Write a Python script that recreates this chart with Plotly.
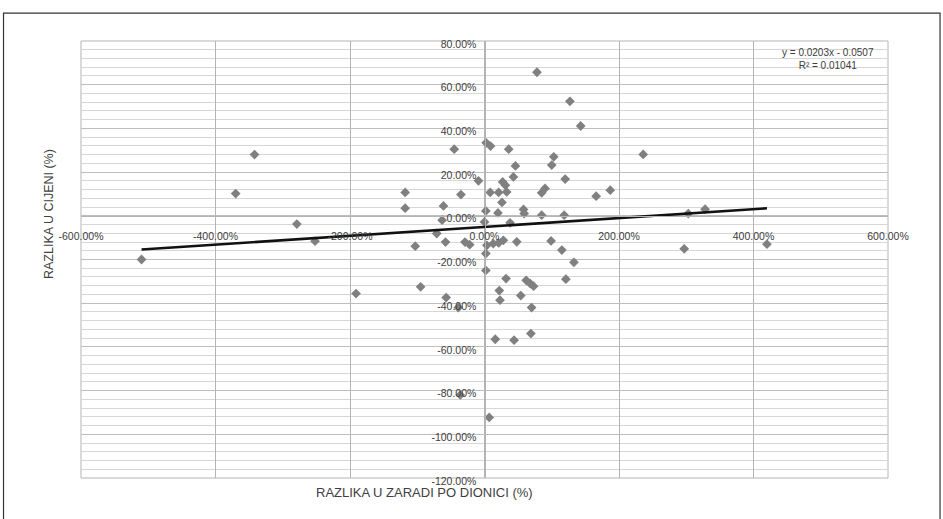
import plotly.graph_objects as go

# Data (percent units)
eps_diff = [-510, -370, -342, -279, -252, -191,
            -118, -118, -103, -95, -61, -63, -71, -58, -57, -45, -35, -39, -36, -29, -22, -9,
            2.5, 9, 8.5, 2, 0, 3.5, 2, 2, 7,
            21, 26, 20, 13, 21, 28, 22, 23, 16, 27, 31, 33, 36, 46, 43, 38, 48, 32, 44,
            58, 59, 62, 68, 73, 54, 70, 69, 78, 90, 85, 85, 99,
            103, 100, 120, 118.5, 115, 133, 121, 127, 143, 166, 187,
            236, 303, 328, 297, 420]
price_diff = [-20, 10.2, 28, -3.8, -11.6, -35.6,
              10.7, 3.5, -13.9, -32.5, 4.5, -2, -8.1, -12, -37.4, 30.5, 9.7, -42, -82, -12, -13.2, 16,
              33.4, 31.9, 10.7, 2.2, -2.8, -13.5, -17.3, -25, -92.3,
              10.7, 6.1, 1.3, -12.7, -12.4, -11.2, -34.2, -38.6, -56.5, 15.5, 14.0, 10.9, 30.5, 22.8, 17.8, -3.2, -11.9, -28.7, -56.9,
              2.9, 1, -29.5, -31, -32.2, -36.5, -42, -53.9, 65.7, 12.5, 10.5, 0.3, -11.5,
              27, 23.2, 16.8, 0.3, -15.7, -21.3, -29, 52.4, 41.1, 9, 11.7,
              28.1, 1.0, 3.0, -15.1, -13.0]

# Trendline coefficients (fraction units, as printed)
slope = 0.0203
intercept = -0.0507
r_squared = 0.01041

x_ticks = [-600, -400, -200, 0, 200, 400, 600]
y_ticks = [80, 60, 40, 20, 0, -20, -40, -60, -80, -100, -120]
x_tick_text = [f"{v:.2f}%" for v in x_ticks]
y_tick_text = [f"{v:.2f}%" for v in y_ticks]

x_title = "RAZLIKA U ZARADI PO DIONICI (%)"
y_title = "RAZLIKA U CIJENI (%)"

xmin, xmax = min(eps_diff), max(eps_diff)
trend_x = [xmin, xmax]
trend_y = [slope * v + intercept * 100 for v in trend_x]

fig = go.Figure()
fig.add_trace(go.Scatter(
    x=eps_diff, y=price_diff, mode="markers",
    marker=dict(symbol="diamond", size=7.5, color="#808080", line=dict(width=0)),
    showlegend=False, cliponaxis=False))
fig.add_trace(go.Scatter(
    x=trend_x, y=trend_y, mode="lines",
    line=dict(color="#111111", width=2.6), showlegend=False))

font_family = "Liberation Sans, Arial, sans-serif"
tick_font = dict(family=font_family, size=10.5, color="#404040")

fig.update_layout(
    width=943, height=519,
    margin=dict(l=81, r=55, t=41, b=41),
    paper_bgcolor="white", plot_bgcolor="white",
    xaxis=dict(
        range=[-600, 600], tickmode="array", tickvals=x_ticks, ticktext=x_tick_text,
        showgrid=True, gridcolor="#b4b4b4", gridwidth=1,
        zeroline=False, showline=True, linecolor="#b4b4b4", linewidth=1,
        anchor="free", position=0.6, side="bottom", ticks="",
        ticklabelstandoff=11, tickfont=tick_font,
    ),
    yaxis=dict(
        range=[-120, 80], tickmode="array", tickvals=y_ticks, ticktext=y_tick_text,
        showgrid=True, gridcolor="#bdbdbd", gridwidth=1,
        minor=dict(tickmode="linear", tick0=0, dtick=4, showgrid=True,
                   gridcolor="#d6d6d6", gridwidth=1),
        zeroline=False, showline=True, linecolor="#b4b4b4", linewidth=1,
        anchor="free", position=0.5, side="left", ticks="",
        ticklabelstandoff=6, ticklabelshift=3, tickfont=tick_font,
    ),
    shapes=[
        dict(type="rect", xref="paper", yref="paper", x0=0, x1=1, y0=0, y1=1,
             line=dict(color="#b4b4b4", width=1), layer="below"),
        dict(type="rect", xref="paper", yref="paper",
             x0=-0.096, x1=1.0645, y0=-0.11, y1=1.064,
             line=dict(color="#333333", width=1.2), layer="above"),
    ],
    annotations=[
        dict(text=f"y = {slope}x - {abs(intercept)}<br>R² = {r_squared}",
             xref="paper", yref="paper", x=(876 - 81) / 807, y=(478 - 45) / 437,
             showarrow=False, align="center",
             font=dict(family=font_family, size=10, color="#404040")),
        dict(text=x_title, xref="paper", yref="paper",
             x=(424 - 81) / 807, y=(478 - 502) / 437, showarrow=False,
             font=dict(family=font_family, size=13, color="#404040")),
        dict(text=y_title, xref="paper", yref="paper",
             x=(40 - 81) / 807, y=(478 - 214) / 437, showarrow=False, textangle=-90,
             font=dict(family=font_family, size=12.5, color="#404040")),
    ],
)

fig.write_html("out.html")
